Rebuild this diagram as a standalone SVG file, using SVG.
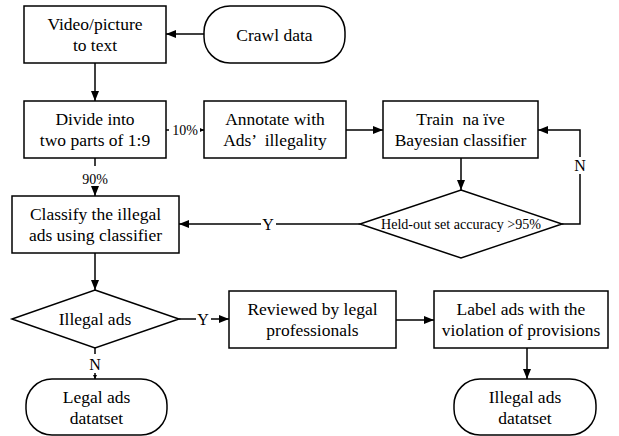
<svg xmlns="http://www.w3.org/2000/svg" width="619" height="436" viewBox="0 0 619 436">
<defs>
<marker id="ah" viewBox="0 0 10 8" refX="10" refY="4" markerWidth="10" markerHeight="8" markerUnits="userSpaceOnUse" orient="auto">
<path d="M0,0 L10,4 L0,8 Z" fill="#000"/>
</marker>
<marker id="ahs" viewBox="0 0 4 4" refX="4" refY="2" markerWidth="4" markerHeight="4" markerUnits="userSpaceOnUse" orient="auto">
<path d="M0,0 L4,2 L0,4 Z" fill="#000"/>
</marker>
</defs>
<style>
text{font-family:'Liberation Serif','DejaVu Serif','Times New Roman',serif;text-anchor:middle;fill:#000}
.n{fill:#fff;stroke:#000;stroke-width:1.5}
.t{font-size:17.5px}
.s{font-size:14px}
.l{font-size:16px}
.c{fill:none;stroke:#000;stroke-width:1.5}
</style>
<rect width="619" height="436" fill="#fff"/>
<g id="connectors">
<line class="c" x1="204" y1="34" x2="166" y2="34" marker-end="url(#ah)"/>
<line class="c" x1="95" y1="63" x2="95" y2="101" marker-end="url(#ah)"/>
<line class="c" x1="166" y1="130" x2="169" y2="130"/>
<line class="c" x1="201" y1="130" x2="204" y2="130" marker-end="url(#ahs)"/>
<text class="s" x="185" y="135">10%</text>
<line class="c" x1="95" y1="158" x2="95" y2="166"/>
<text class="s" x="95" y="184">90%</text>
<line class="c" x1="95" y1="188" x2="95" y2="196" marker-end="url(#ah)"/>
<line class="c" x1="346" y1="130" x2="383" y2="130" marker-end="url(#ah)"/>
<line class="c" x1="461" y1="158" x2="461" y2="190" marker-end="url(#ah)"/>
<polyline class="c" points="562,224 580,224 580,174"/>
<polyline class="c" points="580,157 580,130 538,130" marker-end="url(#ah)"/>
<text class="l" x="580" y="171">N</text>
<line class="c" x1="360" y1="224" x2="276" y2="224"/>
<line class="c" x1="261" y1="224" x2="179" y2="224" marker-end="url(#ah)"/>
<text class="l" x="268" y="229.5">Y</text>
<line class="c" x1="95" y1="253" x2="95" y2="290" marker-end="url(#ah)"/>
<line class="c" x1="179" y1="319" x2="196" y2="319"/>
<line class="c" x1="211" y1="319" x2="229" y2="319" marker-end="url(#ah)"/>
<text class="l" x="203" y="324.5">Y</text>
<line class="c" x1="396" y1="320" x2="434" y2="320" marker-end="url(#ah)"/>
<line class="c" x1="527" y1="348" x2="527" y2="379" marker-end="url(#ah)"/>
<line class="c" x1="95" y1="348" x2="95" y2="354"/>
<text class="l" x="95" y="370">N</text>
<line class="c" x1="95" y1="373" x2="95" y2="379" marker-end="url(#ahs)"/>
</g>
<g id="video">
<rect class="n" x="24" y="6" width="142" height="57"/>
<text class="t" x="95" y="30">Video/picture</text>
<text class="t" x="95" y="51">to text</text>
</g>
<g id="crawl">
<rect class="n" x="204" y="6" width="141" height="57" rx="26"/>
<text class="t" x="274.5" y="40.5">Crawl data</text>
</g>
<g id="divide">
<rect class="n" x="24" y="101" width="142" height="57"/>
<text class="t" x="95" y="125">Divide into</text>
<text class="t" x="95" y="146">two parts of 1:9</text>
</g>
<g id="annotate">
<rect class="n" x="204" y="101" width="142" height="57"/>
<text class="t" x="275" y="125">Annotate with</text>
<text class="t" x="275" y="146" xml:space="preserve">Ads’  illegality</text>
</g>
<g id="train">
<rect class="n" x="383" y="101" width="155" height="57"/>
<text class="t" x="460.5" y="125" xml:space="preserve">Train  na ïve</text>
<text class="t" x="460.5" y="146">Bayesian classifier</text>
</g>
<g id="heldout">
<polygon class="n" points="461,190 562,224 461,258 360,224"/>
<text class="s" x="461" y="229" textLength="160" lengthAdjust="spacingAndGlyphs">Held-out set accuracy &gt;95%</text>
</g>
<g id="classify">
<rect class="n" x="12" y="196" width="167" height="57"/>
<text class="t" x="95.5" y="220">Classify the illegal</text>
<text class="t" x="95.5" y="241">ads using classifier</text>
</g>
<g id="illegal">
<polygon class="n" points="95,290 179,319 95,348 12,319"/>
<text class="t" x="95" y="325">Illegal ads</text>
</g>
<g id="reviewed">
<rect class="n" x="229" y="291" width="167" height="57"/>
<text class="t" x="312.5" y="315">Reviewed by legal</text>
<text class="t" x="312.5" y="336">professionals</text>
</g>
<g id="label">
<rect class="n" x="434" y="291" width="174" height="57"/>
<text class="t" x="521" y="315">Label ads with the</text>
<text class="t" x="521" y="336">violation of provisions</text>
</g>
<g id="legal-dataset">
<rect class="n" x="26" y="379" width="141" height="56" rx="26"/>
<text class="t" x="96.5" y="403">Legal ads</text>
<text class="t" x="96.5" y="424">datatset</text>
</g>
<g id="illegal-dataset">
<rect class="n" x="454" y="379" width="142" height="56" rx="26"/>
<text class="t" x="525" y="403">Illegal ads</text>
<text class="t" x="525" y="424">datatset</text>
</g>
</svg>
